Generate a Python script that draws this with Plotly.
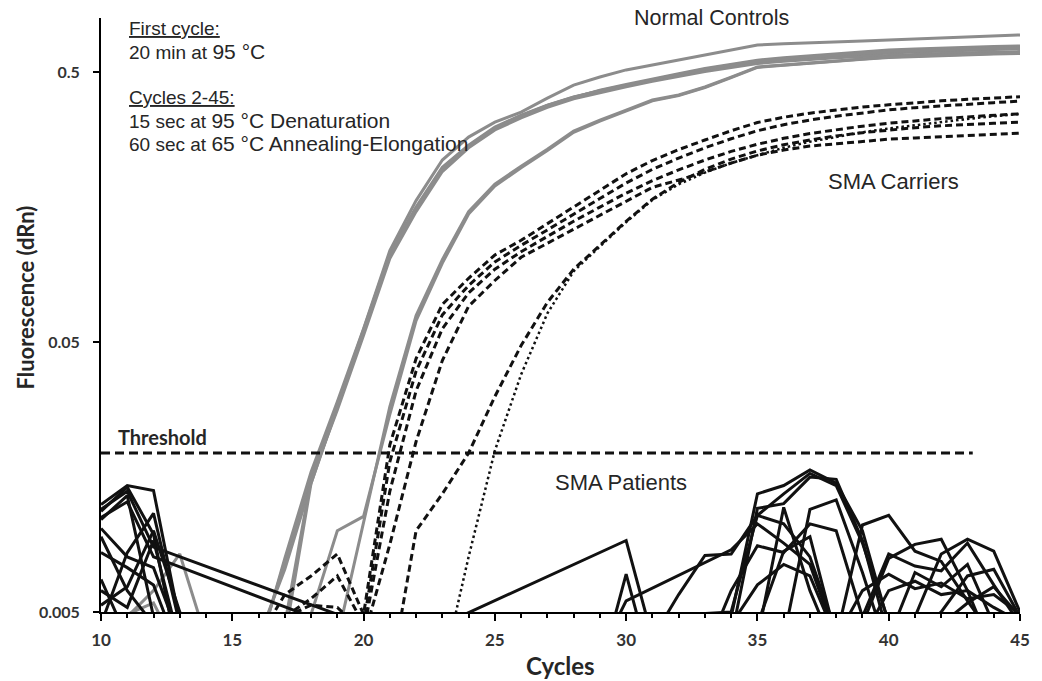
import plotly.graph_objects as go

# ---------------- data ----------------
cycles = list(range(10, 46))
N = None

# Normal controls (grey, solid) - values at cycles 10..45
nc_1 = [N, N, N, N, N, N, 0.0036, 0.0079, 0.0165, 0.0300, 0.0560, 0.109, 0.167, 0.236, 0.287, 0.326, 0.355, 0.400,
        0.447, 0.479, 0.509, 0.531, 0.554, 0.578, 0.603, 0.630, 0.636, 0.640, 0.646, 0.651, 0.657, 0.663, 0.669,
        0.675, 0.681, 0.686]
nc_2 = [N, N, N, N, N, N, 0.0037, 0.0077, 0.0160, 0.0291, 0.0552, 0.1065, 0.158, 0.222, 0.268, 0.3125, 0.346, 0.377,
        0.404, 0.425, 0.444, 0.467, 0.487, 0.509, 0.526, 0.545, 0.554, 0.564, 0.573, 0.578, 0.588, 0.593, 0.598,
        0.603, 0.606, 0.610]
nc_3 = [N, 0.0049, 0.0054, 0.0035, N, N, 0.0040, 0.0072, 0.0150, 0.0285, 0.054, 0.104, 0.155, 0.218, 0.265, 0.309,
        0.343, 0.375, 0.402, 0.428, 0.450, 0.472, 0.493, 0.515, 0.533, 0.553, 0.565, 0.575, 0.585, 0.594, 0.603,
        0.609, 0.614, 0.618, 0.621, 0.624]
nc_4 = [N, N, N, N, N, N, 0.0030, 0.0045, 0.0155, 0.0280, 0.053, 0.102, 0.152, 0.214, 0.262, 0.305, 0.338, 0.370,
        0.398, 0.420, 0.441, 0.462, 0.482, 0.502, 0.520, 0.538, 0.548, 0.557, 0.565, 0.571, 0.577, 0.582, 0.586,
        0.589, 0.592, 0.595]
nc_5 = [N, 0.0048, 0.0060, 0.0082, 0.0040, N, N, 0.0040, 0.0150, 0.0290, 0.0545, 0.105, 0.156, 0.220, 0.266, 0.310,
        0.344, 0.376, 0.403, 0.426, 0.447, 0.469, 0.490, 0.512, 0.530, 0.549, 0.560, 0.570, 0.579, 0.586, 0.595,
        0.600, 0.605, 0.609, 0.612, 0.615]
nc_6 = [N, N, N, N, N, N, N, 0.0030, 0.0049, 0.0100, 0.0113, 0.027, 0.060, 0.098, 0.149, 0.189, 0.221, 0.256,
        0.299, 0.329, 0.358, 0.391, 0.409, 0.438, 0.477, 0.520, 0.530, 0.540, 0.549, 0.558, 0.566, 0.571, 0.576,
        0.580, 0.583, 0.586]
nc_7 = [N, N, N, N, N, N, N, N, N, 0.0040, 0.0108, 0.0288, 0.0627, 0.101, 0.152, 0.192, 0.224, 0.259, 0.302,
        0.332, 0.361, 0.394, 0.411, 0.440, 0.479, 0.522, 0.531, 0.540, 0.549, 0.559, 0.568, 0.573, 0.578, 0.583,
        0.585, 0.588]

# SMA carriers (black, dashed / dotted)
sc_1 = [N, N, N, N, N, N, 0.0040, 0.0058, 0.0068, 0.0082, 0.0049, 0.0208, 0.0434, 0.0689, 0.0861, 0.105, 0.119,
        0.137, 0.158, 0.182, 0.210, 0.235, 0.258, 0.280, 0.303, 0.325, 0.340, 0.352, 0.362, 0.371, 0.378, 0.385,
        0.391, 0.396, 0.401, 0.405]
sc_2 = [N, N, N, N, N, N, N, 0.0048, 0.0056, 0.0068, 0.0045, 0.0180, 0.0390, 0.0630, 0.0810, 0.0990, 0.114, 0.130,
        0.149, 0.170, 0.194, 0.218, 0.240, 0.262, 0.283, 0.303, 0.319, 0.332, 0.343, 0.353, 0.362, 0.369, 0.375,
        0.380, 0.385, 0.390]
sc_3 = [N, N, N, N, N, N, N, 0.0048, 0.0053, 0.0052, 0.0042, 0.0140, 0.0330, 0.0560, 0.0760, 0.0930, 0.108, 0.123,
        0.140, 0.158, 0.178, 0.198, 0.217, 0.236, 0.254, 0.270, 0.284, 0.296, 0.306, 0.315, 0.323, 0.330, 0.336,
        0.341, 0.346, 0.350]
sc_4 = [N, N, N, N, N, N, N, N, N, N, 0.0040, 0.0089, 0.0214, 0.0427, 0.0678, 0.0845, 0.103, 0.116, 0.131, 0.147,
        0.166, 0.187, 0.199, 0.213, 0.230, 0.246, 0.257, 0.266, 0.271, 0.277, 0.282, 0.285, 0.288, 0.291, 0.294,
        0.297]
sc_5 = [N, N, N, N, N, N, N, N, N, N, N, 0.0028, 0.0100, 0.0137, 0.0194, 0.0314, 0.0485, 0.0701, 0.093, 0.114,
        0.140, 0.169, 0.195, 0.218, 0.238, 0.255, 0.269, 0.280, 0.290, 0.298, 0.305, 0.311, 0.316, 0.320, 0.323,
        0.326]
sc_dot = [N, N, N, N, N, N, N, N, N, N, N, N, N, 0.0030, 0.0080, 0.0198, 0.0379, 0.0638, 0.0914, 0.113, 0.139,
          0.168, 0.192, 0.212, 0.230, 0.246, 0.262, 0.276, 0.288, 0.299, 0.309, 0.318, 0.327, 0.335, 0.343, 0.350]

# SMA patients (black, solid) - only the readings that exist (others are skipped, as in the source)
pt_1_x = [10, 11, 12, 13, 33, 34, 35, 36, 37, 38, 39, 40]
pt_1_y = [0.0125, 0.0147, 0.0141, 0.0046, 0.0038, 0.0048, 0.0137, 0.0147, 0.0168, 0.0150, 0.0100, 0.0045]
pt_2_x = [10, 11, 12, 13, 34, 35, 36, 37, 38, 39, 40]
pt_2_y = [0.0118, 0.0145, 0.0097, 0.0032, 0.0040, 0.0121, 0.0126, 0.0158, 0.0155, 0.0092, 0.0040]
pt_3_x = [10, 11, 12, 19, 20, 30, 31, 38, 39, 40, 41, 42, 43, 44]
pt_3_y = [0.0120, 0.0140, 0.0087, 0.0049, 0.0033, 0.0092, 0.0040, 0.0040, 0.0105, 0.0114, 0.0084, 0.0077, 0.0055,
          0.0040]
pt_4_x = [10, 11, 12, 18, 19, 31, 32, 33, 34, 35, 36, 37, 38, 39, 40, 42, 43, 44, 45]
pt_4_y = [0.0112, 0.0128, 0.0080, 0.0048, 0.0030, 0.0040, 0.0058, 0.0081, 0.0082, 0.0114, 0.0137, 0.0163, 0.0147,
          0.0090, 0.0046, 0.0045, 0.0054, 0.0062, 0.0048]
pt_5_x = [10, 11, 12, 13, 29, 30, 34, 35, 36, 37, 38, 39, 40, 41, 42, 43, 44]
pt_5_y = [0.0102, 0.0080, 0.0073, 0.0040, 0.0035, 0.0055, 0.0085, 0.0106, 0.0090, 0.0075, 0.0040, 0.0045, 0.0079,
          0.0089, 0.0093, 0.0060, 0.0035]
pt_6_x = [10, 11, 12, 13, 29, 30, 31, 33, 34, 35, 36, 37, 38, 39, 40, 41, 42, 43, 44, 45]
pt_6_y = [0.0083, 0.0073, 0.0063, 0.0035, 0.0030, 0.0069, 0.0030, 0.0035, 0.0060, 0.0088, 0.0083, 0.0106, 0.0100,
          0.0048, 0.0082, 0.0074, 0.0071, 0.0090, 0.0063, 0.0045]
pt_7_x = [10, 11, 34, 35, 36, 37, 38, 39, 40, 41, 42, 43, 44, 45]
pt_7_y = [0.0066, 0.0040, 0.0045, 0.0063, 0.0075, 0.0068, 0.0040, 0.0060, 0.0069, 0.0061, 0.0064, 0.0056, 0.0058,
          0.0049]
pt_8_x = [10, 11, 12, 13, 35, 36, 37, 38, 41, 42, 43, 44, 45]
pt_8_y = [0.0045, 0.0083, 0.0116, 0.0045, 0.0040, 0.0122, 0.0060, 0.0035, 0.0048, 0.0082, 0.0093, 0.0084, 0.0050]
pt_9_x = [10, 11, 12, 13, 34, 35, 36, 37, 38, 40, 41, 42, 43, 44]
pt_9_y = [0.0060, 0.0052, 0.0092, 0.0038, 0.0050, 0.0114, 0.0106, 0.0080, 0.0042, 0.0040, 0.0070, 0.0062, 0.0075,
          0.0045]
pt_10_x = [10, 11, 12, 36, 37, 38, 39, 40, 42, 43, 44, 45]
pt_10_y = [0.0095, 0.0060, 0.0045, 0.0040, 0.0120, 0.0130, 0.0070, 0.0035, 0.0050, 0.0068, 0.0072, 0.0048]
pt_11_x = [10, 11, 12, 35, 36, 37, 38]
pt_11_y = [0.0110, 0.0135, 0.0048, 0.0045, 0.0084, 0.0095, 0.0040]
pt_12_x = [10, 11, 12, 13, 14, 39, 40, 41, 42, 43, 44, 45]
pt_12_y = [0.0053, 0.0062, 0.0100, 0.0050, 0.0035, 0.0040, 0.0060, 0.0065, 0.0058, 0.0060, 0.0052, 0.0046]

threshold_x = [10, 43.2]
threshold_y = [0.0194, 0.0194]

x_ticks = [10, 15, 20, 25, 30, 35, 40, 45]
y_ticks = [0.005, 0.05, 0.5]
y_tick_text = ["0.005", "0.05", "0.5"]

# ---------------- figure ----------------
GRAY = "#8c8c8c"
BLACK = "#111111"
fig = go.Figure()

for ys in [nc_1, nc_2, nc_3, nc_4, nc_5, nc_6, nc_7]:
    fig.add_trace(go.Scatter(x=cycles, y=ys, mode="lines", connectgaps=False,
                             line=dict(color=GRAY, width=3), hoverinfo="skip", showlegend=False))

for ys in [sc_1, sc_2, sc_3, sc_4, sc_5]:
    fig.add_trace(go.Scatter(x=cycles, y=ys, mode="lines", connectgaps=False,
                             line=dict(color=BLACK, width=3, dash="7px,4px"), hoverinfo="skip",
                             showlegend=False))
fig.add_trace(go.Scatter(x=cycles, y=sc_dot, mode="lines", connectgaps=False,
                         line=dict(color=BLACK, width=2.5, dash="2.5px,3px"), hoverinfo="skip", showlegend=False))

patients = [(pt_1_x, pt_1_y), (pt_2_x, pt_2_y), (pt_3_x, pt_3_y), (pt_4_x, pt_4_y), (pt_5_x, pt_5_y),
            (pt_6_x, pt_6_y), (pt_7_x, pt_7_y), (pt_8_x, pt_8_y), (pt_9_x, pt_9_y), (pt_10_x, pt_10_y),
            (pt_11_x, pt_11_y), (pt_12_x, pt_12_y)]
for px_, py_ in patients:
    fig.add_trace(go.Scatter(x=px_, y=py_, mode="lines", line=dict(color=BLACK, width=3),
                             hoverinfo="skip", showlegend=False))

fig.add_trace(go.Scatter(x=threshold_x, y=threshold_y, mode="lines",
                         line=dict(color=BLACK, width=3, dash="9px,5px"), hoverinfo="skip", showlegend=False))

# plot area in pixels
L, R, T, B = 101, 15, 18, 69
W, H = 1042, 681
PW, PH = W - L - R, H - T - B


def pxx(x):
    return (x - L) / PW


def pxy(y):
    return (H - B - y) / PH


TXT = "#262626"
ANN_FONT = "Liberation Sans, Arial, sans-serif"
AX_FONT = "Lato, Carlito, sans-serif"

ann = []


def add_text(text, x, y, size, xanchor="left", family=ANN_FONT, weight="normal", angle=0):
    ann.append(dict(text=text, x=pxx(x), y=pxy(y), xref="paper", yref="paper", showarrow=False,
                    xanchor=xanchor, yanchor="middle", textangle=angle,
                    font=dict(family=family, size=size, color=TXT, weight=weight)))


big = "<span style='font-size:21px'>"
add_text("<u>First cycle:</u>", 127, 28, 19)
add_text("20 min at " + big + "95 °C</span>", 127, 51, 19)
add_text("<u>Cycles 2-45:</u>", 127, 97, 19)
add_text("15 sec at " + big + "95 °C Denaturation</span>", 127, 120, 19)
add_text("60 sec at " + big + "65 °C Annealing-Elongation</span>", 127, 143, 19)
add_text("Normal Controls", 716, 18, 21.5, xanchor="center")
add_text("SMA Carriers", 900, 181, 22, xanchor="center")
add_text("SMA Patients", 625, 482, 22, xanchor="center")
add_text("Threshold", 116, 437, 20, family=AX_FONT, weight="bold")
add_text("Cycles", 564, 665, 24, xanchor="center", family=AX_FONT, weight="bold")
add_text("Fluorescence (dRn)", 24, 298, 22, xanchor="center", family=AX_FONT, weight="bold", angle=-90)

fig.update_layout(
    width=W, height=H, autosize=False,
    margin=dict(l=L, r=R, t=T, b=B, pad=0),
    plot_bgcolor="white", paper_bgcolor="white", showlegend=False,
    annotations=ann,
    xaxis=dict(range=[10, 45], tickmode="array", tickvals=x_ticks, ticks="outside", ticklen=7, tickwidth=2,
               tickcolor="black", showline=True, linecolor="black", linewidth=2, showgrid=False, zeroline=False,
               tickfont=dict(family=AX_FONT, size=17, color="#333333", weight="bold"),
               ticklabelstandoff=5,
               minor=dict(tick0=10, dtick=1, ticks="outside", ticklen=4, tickwidth=1.5, tickcolor="black",
                          showgrid=False)),
    yaxis=dict(type="log", range=[-2.30103, -0.101], tickmode="array", tickvals=y_ticks, ticktext=y_tick_text,
               ticks="outside", ticklen=6, tickwidth=2, tickcolor="black", showline=True, linecolor="black",
               linewidth=2, showgrid=False, zeroline=False,
               tickfont=dict(family=AX_FONT, size=16, color="#333333", weight="bold"),
               ticklabelstandoff=10),
)

fig.write_html("out.html")
